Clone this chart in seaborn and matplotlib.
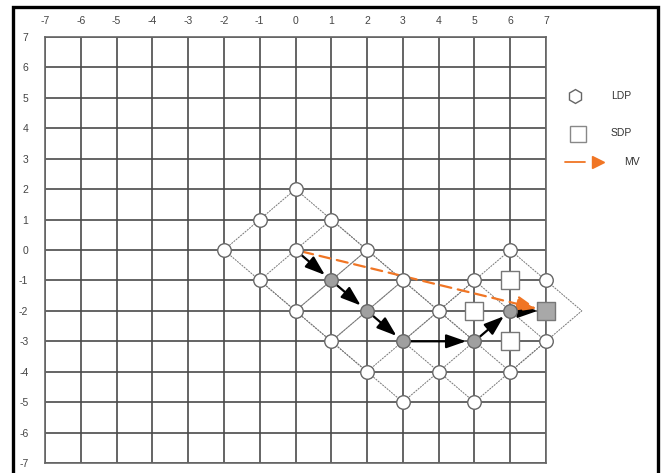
import numpy as np
import pandas as pd
import seaborn as sns
from matplotlib import pyplot as plt
from matplotlib.lines import Line2D
from matplotlib.patches import Rectangle

# data -------------------------------------------------------------------
ticks = list(range(-7, 8))

# large diamond pattern points (open / chosen best)
ldp_x = [0, -1, 1, -2, 0, 2, -1, 3, 0, 4, 1, 2, 4, 6, 3, 5, 5, 6, 7, 7]
ldp_y = [2, 1, 1, 0, 0, 0, -1, -1, -2, -2, -3, -4, -4, -4, -5, -5, -1, 0, -1, -3]
ldp_best_x = [1, 2, 3, 5, 6]
ldp_best_y = [-1, -2, -3, -3, -2]

# small diamond pattern points
sdp_x = [5, 6, 6]
sdp_y = [-2, -1, -3]
sdp_best_x = [7]
sdp_best_y = [-2]

# centres of the large diamonds that were searched
centre_x = [0, 1, 2, 3, 5, 6]
centre_y = [0, -1, -2, -3, -3, -2]
ldp_radius = 2

# search path and final motion vector
path_x = [0, 1, 2, 3, 5, 6, 7]
path_y = [0, -1, -2, -3, -3, -2, -2]
mv_x = [0, 7]
mv_y = [0, -2]

legend_labels = ['LDP', 'SDP', 'MV']

sns.set_style('white')
plt.rcParams['font.family'] = ['Liberation Sans', 'DejaVu Sans']
plt.rcParams['axes.unicode_minus'] = False

fig = plt.figure(figsize=(6.61, 4.73), dpi=100)
ax = fig.add_axes([45 / 661, 1 - 463 / 473, 501 / 661, 426 / 473])

# grid ----------------------------------------------------------------------
ax.set_xlim(-7, 7)
ax.set_ylim(-7, 7)
ax.set_xticks(ticks)
ax.set_yticks(ticks)
ax.grid(True, color='#4a4a4a', lw=1.2)
for s in ax.spines.values():
    s.set_color('#666666')
    s.set_linewidth(1.2)
ax.xaxis.tick_top()
ax.tick_params(axis='x', length=0, pad=8, labelsize=7.5, labelcolor='#444444')
ax.tick_params(axis='y', length=0, pad=12, labelsize=7.5, labelcolor='#444444')
ax.set_axisbelow(True)

# diamond outlines -----------------------------------------------------------
for cx, cy in zip(centre_x, centre_y):
    dx = [cx, cx + ldp_radius, cx, cx - ldp_radius, cx]
    dy = [cy + ldp_radius, cy, cy - ldp_radius, cy, cy + ldp_radius]
    ax.plot(dx, dy, color='#777777', lw=0.7, ls=(0, (2, 1)), clip_on=False, zorder=2)

# search path arrows
for i in range(len(path_x) - 1):
    ax.annotate('', xy=(path_x[i + 1], path_y[i + 1]), xytext=(path_x[i], path_y[i]),
                arrowprops=dict(arrowstyle='-|>,head_length=1.0,head_width=0.35', color='black',
                                lw=1.6, shrinkA=5, shrinkB=6, mutation_scale=12),
                zorder=3, annotation_clip=False)

# motion vector
ax.annotate('', xy=(mv_x[1], mv_y[1]), xytext=(mv_x[0], mv_y[0]),
            arrowprops=dict(arrowstyle='-|>,head_length=1.0,head_width=0.4', color='#f07524',
                            lw=1.6, ls=(0, (5, 3)), shrinkA=5, shrinkB=7, mutation_scale=12),
            zorder=4, annotation_clip=False)

# points
df_ldp = pd.DataFrame({'x': ldp_x, 'y': ldp_y})
df_ldp_best = pd.DataFrame({'x': ldp_best_x, 'y': ldp_best_y})
df_sdp = pd.DataFrame({'x': sdp_x, 'y': sdp_y})
df_sdp_best = pd.DataFrame({'x': sdp_best_x, 'y': sdp_best_y})

sns.scatterplot(data=df_ldp, x='x', y='y', marker='o', s=95, color='white',
                edgecolor='#666666', linewidth=1.0, ax=ax, zorder=5)
sns.scatterplot(data=df_ldp_best, x='x', y='y', marker='o', s=95, color='#a0a0a0',
                edgecolor='#666666', linewidth=1.0, ax=ax, zorder=5)
sns.scatterplot(data=df_sdp, x='x', y='y', marker='s', s=150, color='white',
                edgecolor='#777777', linewidth=1.0, ax=ax, zorder=5)
sns.scatterplot(data=df_sdp_best, x='x', y='y', marker='s', s=150, color='#a8a8a8',
                edgecolor='#777777', linewidth=1.0, ax=ax, zorder=5)
for c in ax.collections:
    c.set_clip_on(False)
ax.set_xlabel('')
ax.set_ylabel('')

# legend drawn by hand on the figure ------------------------------------------
tf = fig.transFigure
fig.add_artist(Line2D([575 / 661], [1 - 96 / 473], marker='h', markersize=10, color='none',
                      markerfacecolor='white', markeredgecolor='#666666', transform=tf))
fig.add_artist(Line2D([578 / 661], [1 - 134 / 473], marker='s', markersize=11, color='none',
                      markerfacecolor='white', markeredgecolor='#888888', transform=tf))
fig.add_artist(Line2D([565 / 661, 585 / 661], [1 - 162 / 473] * 2, color='#f07524', lw=1.3,
                      transform=tf))
fig.add_artist(Line2D([598 / 661], [1 - 162 / 473], marker='>', markersize=9, color='none',
                      markerfacecolor='#f07524', markeredgecolor='#f07524', transform=tf))
fig.text(611 / 661, 1 - 96 / 473, legend_labels[0], fontsize=7.5, color='#333333', va='center')
fig.text(611 / 661, 1 - 133 / 473, legend_labels[1], fontsize=7.5, color='#333333', va='center')
fig.text(624 / 661, 1 - 162 / 473, legend_labels[2], fontsize=7.5, color='#333333', va='center')

# outer frame
fig.add_artist(Rectangle((13 / 661, -0.02), 645 / 661, 1 - 7 / 473 + 0.02, fill=False,
                         lw=2.4, edgecolor='black', transform=tf))

fig.savefig('out.png', dpi=100)
